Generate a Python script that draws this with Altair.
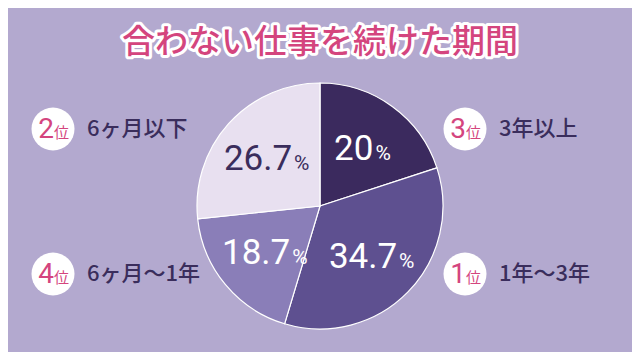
import altair as alt
import pandas as pd

# ---- data ----
categories = ["3年以上", "1年〜3年", "6ヶ月〜1年", "6ヶ月以下"]
shares = [20, 34.7, 18.7, 26.7]
share_labels = ["20", "34.7", "18.7", "26.7"]
ranks = ["3", "1", "4", "2"]
title_text = "合わない仕事を続けた期間"

slice_colors = ["#3b2a5e", "#5e5090", "#8a7eb8", "#e8e0f0"]
BG = "#b3a9cf"
PINK = "#d4457e"
DARK = "#3a2d5c"

df = pd.DataFrame({
    "cat": categories,
    "value": shares,
    "num": share_labels,
    "rank": ranks,
    "idx": list(range(len(categories))),
})

W, H = 624, 292
CX, CY = W / 2, H / 2
R = 123
LR = 72
NFS = 35

base = alt.Chart(df).transform_joinaggregate(
    total="sum(value)"
).transform_window(
    cum="sum(value)", sort=[alt.SortField("idx")], frame=[None, 0]
).transform_calculate(
    mid=f"2*PI*(datum.cum - datum.value/2)/datum.total",
).transform_calculate(
    px=f"{CX} + {LR}*sin(datum.mid)",
    py=f"{CY} - {LR}*cos(datum.mid)",
    nw=f"(length(replace(datum.num, '.', '')) * 0.5615 + (indexof(datum.num, '.') >= 0 ? 0.263 : 0)) * {NFS}",
    side="sin(datum.mid) > 0 ? 1 : 0",
    row="cos(datum.mid) > 0 ? 0 : 1",
).transform_calculate(
    gw="datum.nw + 2 + 0.715*21",
).transform_calculate(
    nx="datum.px - datum.gw/2",
    pctx="datum.px - datum.gw/2 + datum.nw + 2",
    ny="datum.py + 12",
    lx="datum.side == 1 ? 457 : 45",
    ly="datum.row == 0 ? 69 : 214",
)

pie = alt.Chart(df).mark_arc(outerRadius=R, stroke="white", strokeWidth=1.2).encode(
    theta=alt.Theta("value:Q", stack=True),
    color=alt.Color("cat:N", scale=alt.Scale(domain=categories, range=slice_colors), legend=None),
    order=alt.Order("idx:Q"),
)

txt_color = alt.condition(alt.datum.cat == "6ヶ月以下", alt.value(DARK), alt.value("white"))

nums = base.mark_text(font="Roboto", fontSize=NFS, align="left", baseline="alphabetic").encode(
    x=alt.X("nx:Q", scale=None, axis=None),
    y=alt.Y("ny:Q", scale=None, axis=None),
    text="num:N",
    color=txt_color,
)
pcts = base.mark_text(font="Roboto", fontSize=21, align="left", baseline="alphabetic").encode(
    x=alt.X("pctx:Q", scale=None, axis=None),
    y=alt.Y("ny:Q", scale=None, axis=None),
    text=alt.value("%"),
    color=txt_color,
)

circles = base.mark_circle(size=43 * 43, color="white", opacity=1).encode(
    x=alt.X("lx:Q", scale=None, axis=None),
    y=alt.Y("ly:Q", scale=None, axis=None),
)
rank_num = base.mark_text(font="Roboto", fontSize=28, align="right", baseline="alphabetic", color=PINK, dx=1, dy=9).encode(
    x=alt.X("lx:Q", scale=None, axis=None),
    y=alt.Y("ly:Q", scale=None, axis=None),
    text="rank:N",
)
rank_kanji = base.mark_text(font="Noto Sans CJK JP", fontSize=15, align="left", baseline="alphabetic", color=PINK, dx=1, dy=9).encode(
    x=alt.X("lx:Q", scale=None, axis=None),
    y=alt.Y("ly:Q", scale=None, axis=None),
    text=alt.value("位"),
)
cat_text = base.mark_text(font="Noto Sans CJK JP", fontSize=22, fontWeight=500, align="left", baseline="middle", color=DARK, dx=34, dy=0).encode(
    x=alt.X("lx:Q", scale=None, axis=None),
    y=alt.Y("ly:Q", scale=None, axis=None),
    text="cat:N",
)

title_df = pd.DataFrame({"t": [title_text]})
title_outline = alt.Chart(title_df).mark_text(
    font="Noto Sans CJK JP", fontSize=33, fontWeight=500, align="center", baseline="middle",
    color="white", stroke="white", strokeWidth=6, strokeJoin="round",
).encode(x=alt.value(CX), y=alt.value(-17), text="t:N")
title_fill = alt.Chart(title_df).mark_text(
    font="Noto Sans CJK JP", fontSize=33, fontWeight=500, align="center", baseline="middle",
    color=PINK,
).encode(x=alt.value(CX), y=alt.value(-17), text="t:N")

chart = alt.layer(
    pie, nums, pcts, circles, rank_num, rank_kanji, cat_text, title_outline, title_fill
).properties(
    width=W, height=H,
    autosize=alt.AutoSizeParams(type="none"),
    padding={"top": 52, "left": 0, "right": 0, "bottom": 0},
    background=BG,
).configure_view(stroke=None)

chart.save("out.html", embed_options={"renderer": "svg", "actions": False})
